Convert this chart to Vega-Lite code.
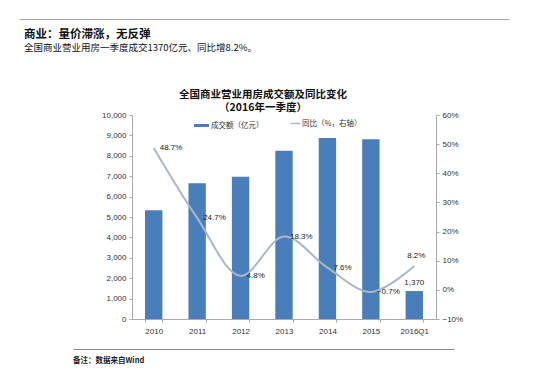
{
  "$schema": "https://vega.github.io/schema/vega-lite/v6.json",
  "padding": {"top": 19, "left": 20, "right": 5, "bottom": 5},
  "columns": 1,
  "align": "none",
  "center": false,
  "bounds": "full",
  "spacing": 14,
  "resolve": {"scale": {"fill": "independent", "stroke": "independent", "x": "independent", "y": "independent"}, "legend": {"fill": "independent", "stroke": "independent"}},
  "config": {
    "font": "Liberation Sans, Noto Sans CJK SC",
    "view": {"stroke": null},
    "axis": {"labelFontSize": 8, "labelColor": "#333", "domainColor": "#aaa", "tickColor": "#aaa", "tickSize": 3, "grid": false}
  },
  "concat": [
    {
      "width": 377,
      "height": 1,
      "data": {"values": []},
      "mark": "point",
      "encoding": {
        "x": {"datum": 0, "type": "quantitative", "scale": {"domain": [0, 1], "range": [-113, 377]}, "axis": {"orient": "top", "labels": false, "ticks": false, "title": null, "domainColor": "#a8a8a8", "domainWidth": 1.2}}
      },
      "title": {
        "text": "商业：量价滞涨，无反弹",
        "subtitle": ["全国商业营业用房一季度成交1370亿元、同比增8.2%。", " ", " "],
        "orient": "bottom",
        "anchor": "start",
        "frame": "bounds",
        "dx": -108,
        "offset": 9,
        "fontSize": 11.5,
        "fontWeight": "bold",
        "color": "#111",
        "subtitleFontSize": 9.5,
        "subtitleColor": "#111",
        "subtitlePadding": 2,
        "subtitleLineHeight": 11.4,
        "font": "Noto Sans CJK SC",
        "subtitleFont": "Noto Sans CJK SC"
      }
    },
    {
      "width": 304,
      "height": 204,
      "title": {
        "text": ["全国商业营业用房成交额及同比变化", "（2016年一季度）"],
        "fontSize": 10.5,
        "fontWeight": "bold",
        "font": "Noto Sans CJK SC",
        "color": "#111",
        "anchor": "middle",
        "frame": "group",
        "dx": -21,
        "lineHeight": 13,
        "offset": -2
      },
      "data": {
        "values": [
          {"period": "2010", "amount": 5337, "yoy": 0.487},
          {"period": "2011", "amount": 6655, "yoy": 0.247},
          {"period": "2012", "amount": 6974, "yoy": 0.048},
          {"period": "2013", "amount": 8250, "yoy": 0.183},
          {"period": "2014", "amount": 8877, "yoy": 0.076},
          {"period": "2015", "amount": 8815, "yoy": -0.007},
          {"period": "2016Q1", "amount": 1370, "yoy": 0.082}
        ]
      },
      "encoding": {
        "x": {
          "field": "period",
          "type": "nominal",
          "sort": null,
          "scale": {"paddingInner": 0.6, "paddingOuter": 0.3},
          "axis": {"title": null, "labelAngle": 0, "tickBand": "extent", "labelPadding": 5}
        }
      },
      "layer": [
        {
          "layer": [
            {
              "mark": {"type": "bar"},
              "encoding": {
                "y": {
                  "field": "amount",
                  "type": "quantitative",
                  "scale": {"domain": [0, 10000]},
                  "axis": {"title": " ", "titlePadding": 70, "values": [0,1000,2000,3000,4000,5000,6000,7000,8000,9000,10000], "format": ",d", "labelPadding": 3, "labelOverlap": false}
                },
                "fill": {
                  "datum": "成交额（亿元）",
                  "scale": {"domain": ["成交额（亿元）"], "range": ["#4a7ebb"]},
                  "legend": {
                    "title": null,
                    "orient": "none",
                    "legendX": 62,
                    "legendY": 3,
                    "symbolType": "M-1,-0.2H1V0.2H-1Z",
                    "symbolSize": 225,
                    "symbolStrokeWidth": 0,
                    "labelFontSize": 7.5,
                    "labelFont": "Noto Sans CJK SC",
                    "labelColor": "#333",
                    "labelOffset": 2
                  }
                }
              }
            },
            {
              "transform": [{"filter": "datum.period == '2016Q1'"}],
              "mark": {"type": "text", "baseline": "bottom", "dy": -4, "fontSize": 8, "color": "#222"},
              "encoding": {
                "y": {"field": "amount", "type": "quantitative", "axis": {"title": " ", "titlePadding": 70, "values": [0,1000,2000,3000,4000,5000,6000,7000,8000,9000,10000], "format": ",d", "labelPadding": 3, "labelOverlap": false}},
                "text": {"field": "amount", "type": "quantitative", "format": ","}
              }
            }
          ]
        },
        {
          "layer": [
            {
              "mark": {"type": "line", "interpolate": "catmull-rom", "strokeWidth": 2},
              "encoding": {
                "y": {
                  "field": "yoy",
                  "type": "quantitative",
                  "scale": {"domain": [-0.1, 0.6]},
                  "axis": {"title": null, "orient": "right", "values": [-0.1,0,0.1,0.2,0.3,0.4,0.5,0.6], "format": ".0%", "labelPadding": 3, "labelOverlap": false}
                },
                "stroke": {
                  "datum": "同比（%，右轴）",
                  "scale": {"domain": ["同比（%，右轴）"], "range": ["#a9b7c9"]},
                  "legend": {
                    "title": null,
                    "orient": "none",
                    "legendX": 158,
                    "legendY": 3,
                    "symbolType": "stroke",
                    "symbolSize": 90,
                    "symbolStrokeWidth": 1.5,
                    "labelFontSize": 7.5,
                    "labelFont": "Noto Sans CJK SC",
                    "labelColor": "#333",
                    "labelOffset": 1
                  }
                }
              }
            },
            {
              "transform": [{"filter": "datum.period != '2016Q1'"}],
              "mark": {"type": "text", "align": "left", "dx": 6, "fontSize": 8, "color": "#222"},
              "encoding": {
                "y": {"field": "yoy", "type": "quantitative", "axis": {"title": null, "orient": "right", "values": [-0.1,0,0.1,0.2,0.3,0.4,0.5,0.6], "format": ".0%", "labelPadding": 3, "labelOverlap": false}},
                "text": {"field": "yoy", "type": "quantitative", "format": ".1%"}
              }
            },
            {
              "transform": [{"filter": "datum.period == '2016Q1'"}],
              "mark": {"type": "text", "baseline": "bottom", "dy": -6, "dx": 2, "fontSize": 8, "color": "#222"},
              "encoding": {
                "y": {"field": "yoy", "type": "quantitative", "axis": {"title": null, "orient": "right", "values": [-0.1,0,0.1,0.2,0.3,0.4,0.5,0.6], "format": ".0%", "labelPadding": 3, "labelOverlap": false}},
                "text": {"field": "yoy", "type": "quantitative", "format": ".1%"}
              }
            }
          ]
        }
      ],
      "resolve": {"scale": {"y": "independent"}}
    },
    {
      "width": 322,
      "height": 1,
      "data": {"values": []},
      "mark": "point",
      "encoding": {
        "x": {"datum": 0, "type": "quantitative", "scale": {"domain": [0, 1], "range": [-59, 322]}, "axis": {"orient": "top", "labels": false, "ticks": false, "title": null, "domainColor": "#888", "domainWidth": 1.2}},
        "y": {"datum": 0, "type": "quantitative", "axis": {"labels": false, "ticks": false, "domain": false, "title": " ", "titlePadding": 48}}
      },
      "title": {
        "text": "备注：数据来自Wind",
        "orient": "bottom",
        "anchor": "start",
        "frame": "bounds",
        "offset": 7,
        "fontSize": 7.5,
        "fontWeight": "bold",
        "font": "Noto Sans CJK SC",
        "color": "#222"
      }
    }
  ]
}
